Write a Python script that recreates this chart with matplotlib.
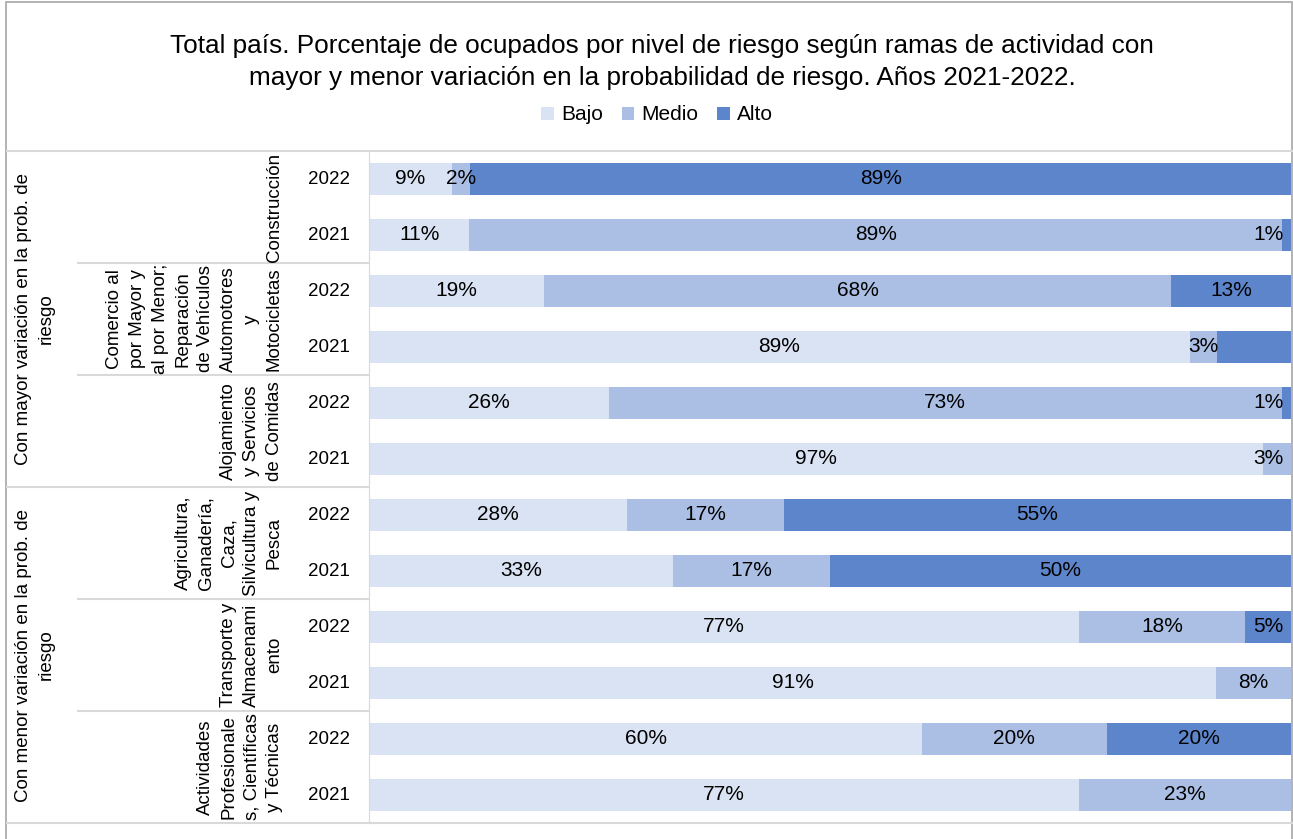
import numpy as np
import matplotlib
matplotlib.use("Agg")
import matplotlib.pyplot as plt
import matplotlib.transforms as mtransforms
from matplotlib.lines import Line2D
from matplotlib.patches import Rectangle, Patch

plt.rcParams['font.family'] = ['Liberation Sans', 'DejaVu Sans']

# datos
titulo = ("Total país. Porcentaje de ocupados por nivel de riesgo según ramas de actividad con\n"
          "mayor y menor variación en la probabilidad de riesgo. Años 2021-2022.")
series = ["Bajo", "Medio", "Alto"]
grupos = ["Con mayor variación en la prob. de\nriesgo",
          "Con menor variación en la prob. de\nriesgo"]
ramas = ["Construcción",
         "Comercio al\npor Mayor y\nal por Menor;\nReparación\nde Vehículos\nAutomotores\ny\nMotocicletas",
         "Alojamiento\ny Servicios\nde Comidas",
         "Agricultura,\nGanadería,\nCaza,\nSilvicultura y\nPesca",
         "Transporte y\nAlmacenami\nento",
         "Actividades\nProfesionale\ns, Científicas\ny Técnicas"]
anios = ["2022", "2021"] * 6
bajo = [9, 11, 19, 89, 26, 97, 28, 33, 77, 91, 60, 77]
medio = [2, 89, 68, 3, 73, 3, 17, 17, 18, 8, 20, 23]
alto = [89, 1, 13, 8, 1, 0, 55, 50, 5, 0, 20, 0]
# etiquetas que no se muestran (fila, serie)
ocultas = [(3, 2)]

colores = ["#DAE3F3", "#ABBFE4", "#5D85CB"]

W, H = 1293, 839
fig = plt.figure(figsize=(W / 100, H / 100), dpi=100)

def fx(px):
    return px / W

def fy(py):
    return 1 - py / H

x0, x1, y0, y1 = 369, 1291, 151, 823
ax = fig.add_axes([fx(x0), fy(y1), fx(x1) - fx(x0), fy(y0) - fy(y1)])

datos = np.array([bajo, medio, alto], dtype=float)
totales = datos.sum(axis=0)
pct = datos / totales * 100
n = len(bajo)
y = np.arange(n)
izq = np.zeros(n)
textos = []
for s in range(3):
    ax.barh(y, pct[s], left=izq, height=0.57, color=colores[s], label=series[s])
    for i in range(n):
        if datos[s, i] > 0 and (i, s) not in ocultas:
            t = ax.text(izq[i] + pct[s, i] / 2, i, f"{int(datos[s, i])}%",
                        ha="center", va="center", fontsize=15, color="black")
            textos.append(t)
    izq += pct[s]

ax.set_xlim(0, 100)
ax.set_ylim(n - 0.5, -0.5)
ax.set_xticks([])
ax.set_yticks([])
for lado in ["top", "right", "bottom"]:
    ax.spines[lado].set_visible(False)
ax.spines["left"].set_color("#D9D9D9")

# etiquetas que se salen por la derecha
fig.canvas.draw()
r = fig.canvas.get_renderer()
lim = ax.transData.transform((100, 0))[0] - 7
for t in textos:
    bb = t.get_window_extent(r)
    if bb.x1 > lim:
        t.set_ha("right")
        t.set_x(ax.transData.inverted().transform((lim, 0))[0])

# eje de categorías de varios niveles
tr = mtransforms.blended_transform_factory(fig.transFigure, ax.transData)
for i, a in enumerate(anios):
    fig.text(fx(329), i, a, transform=tr, ha="center", va="center", fontsize=13.5)
for k, rama in enumerate(ramas):
    fig.text(fx(283), 2 * k + 0.5, rama, transform=tr, ha="right", va="center",
             rotation=90, multialignment="center", fontsize=13.5, linespacing=1.45)
for g, grupo in enumerate(grupos):
    fig.text(fx(35), 6 * g + 2.5, grupo, transform=tr, ha="center", va="center",
             rotation=90, multialignment="center", fontsize=13.5, linespacing=1.5)

gris = "#D9D9D9"
for b in [1.5, 3.5, 7.5, 9.5]:
    fig.add_artist(Line2D([fx(78), fx(x0)], [b, b], transform=tr, color=gris, lw=1.5))
fig.add_artist(Line2D([fx(7), fx(x0)], [5.5, 5.5], transform=tr, color=gris, lw=1.5))
fig.add_artist(Line2D([fx(7), fx(1292)], [-0.5, -0.5], transform=tr, color=gris, lw=1.5))
fig.add_artist(Line2D([fx(7), fx(1292)], [n - 0.5, n - 0.5], transform=tr, color=gris, lw=1.5))

# borde del gráfico
fig.add_artist(Rectangle((fx(6), fy(860)), fx(1292) - fx(6), fy(2) - fy(860),
                         transform=fig.transFigure, fill=False, edgecolor="#A6A6A6", lw=1.2))

fig.text(fx(662), fy(62), titulo, ha="center", va="center", fontsize=18.8,
         linespacing=1.42, color="black")

manejadores = [Patch(facecolor=c, label=s) for c, s in zip(colores, series)]
fig.legend(handles=manejadores, loc="center", bbox_to_anchor=(fx(657), fy(115)), ncol=3,
           frameon=False, fontsize=15, handlelength=0.6, handleheight=0.6,
           handletextpad=0.35, columnspacing=0.9)

fig.savefig("out.png", dpi=100)
